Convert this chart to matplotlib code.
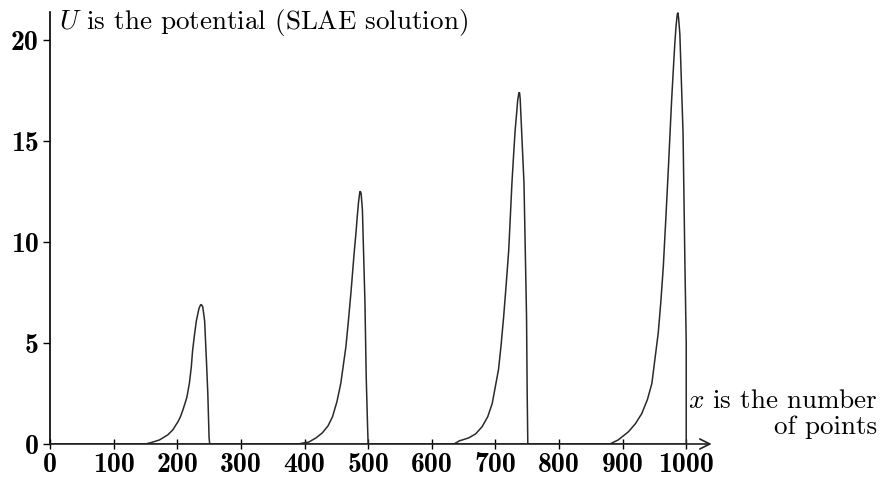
import numpy as np
from matplotlib import pyplot as plt

plt.rcParams['mathtext.fontset'] = 'cm'
plt.rcParams['font.family'] = 'cmr10'
plt.rcParams['axes.formatter.use_mathtext'] = True

# values, one pulse per block of 250 points
x1 = [0, 150, 160, 172, 185, 193, 201, 205, 209, 212, 215, 219, 222, 224, 227, 230, 232, 234, 236, 237, 238, 240, 243, 246, 248, 250]
u1 = [0, 0, 0.08, 0.2, 0.45, 0.7, 1.1, 1.35, 1.7, 2.0, 2.3, 3.0, 3.8, 4.6, 5.4, 6.1, 6.4, 6.7, 6.85, 6.9, 6.9, 6.8, 6.1, 4.0, 2.5, 0.3]

x2 = [251, 390, 407, 418, 428, 437, 444, 451, 457, 465, 469, 473, 478, 481, 483, 485, 487, 488, 489, 491, 495, 497, 499]
u2 = [0, 0, 0.1, 0.3, 0.55, 0.9, 1.35, 2.1, 3.0, 4.8, 6.1, 7.5, 9.45, 10.5, 11.3, 12.0, 12.5, 12.5, 12.4, 11.6, 7.0, 3.3, 1.0]

x3 = [500, 635, 643, 658, 669, 679, 688, 695, 705, 709, 713, 717, 721, 726, 729, 731, 734, 735, 737, 738, 739, 742, 745, 749, 750]
u3 = [0, 0, 0.15, 0.3, 0.5, 0.85, 1.35, 2.0, 3.7, 4.9, 6.3, 7.9, 9.6, 12.9, 14.5, 15.5, 16.6, 17.0, 17.4, 17.4, 17.1, 15.0, 12.9, 6.3, 2.5]

x4 = [751, 880, 893, 909, 920, 930, 939, 946, 956, 960, 964, 968, 972, 977, 980, 982, 984, 986, 987, 988, 990, 995, 998, 1000, 1000]
u4 = [0, 0, 0.2, 0.6, 1.0, 1.5, 2.2, 3.0, 5.5, 7.0, 8.8, 11.2, 13.7, 17.0, 18.7, 19.8, 20.7, 21.3, 21.35, 21.1, 20.3, 15.4, 8.8, 5.0, 0]

x = x1 + x2 + x3 + x4
u = u1 + u2 + u3 + u4

xticks = list(range(0, 1001, 100))
yticks = [0, 5, 10, 15, 20]

fig = plt.figure(figsize=(8.81, 4.79), dpi=100)
ax = fig.add_axes([0.0568, 0.0731, 0.751, 0.902])

ax.plot(x, u, color='#2a2a2a', lw=1.1)
ax.axhline(0, xmax=1000/1040, color='#222222', lw=1.8)

ax.set_xlim(0, 1040)
ax.set_ylim(0, 21.4)
ax.spines['top'].set_visible(False)
ax.spines['right'].set_visible(False)
ax.spines['bottom'].set_visible(False)
ax.spines['left'].set_linewidth(1.2)
ax.annotate('', xy=(1.0, 0), xytext=(0, 0), xycoords='axes fraction',
            arrowprops=dict(arrowstyle='->', lw=1.2, color='#222222',
                            shrinkA=0, shrinkB=0, mutation_scale=18))

ax.set_xticks(xticks)
ax.set_yticks(yticks)
ax.set_xticklabels([str(t) for t in xticks], fontfamily='cmb10', fontsize=20)
ax.set_yticklabels([str(t) for t in yticks], fontfamily='cmb10', fontsize=20)
ax.tick_params(axis='x', direction='inout', length=7, width=1, pad=2)
ax.tick_params(axis='y', direction='out', length=5, width=1, pad=3)

ax.text(0.014, 0.975, r'$U$ is the potential (SLAE solution)',
        transform=ax.transAxes, fontsize=19.5, va='center', ha='left')
fig.text(0.996, 0.163, r'$x$ is the number', fontsize=19.5, ha='right', va='center')
fig.text(0.996, 0.108, 'of points', fontsize=19.5, ha='right', va='center')

plt.savefig('out.png', dpi=100)
